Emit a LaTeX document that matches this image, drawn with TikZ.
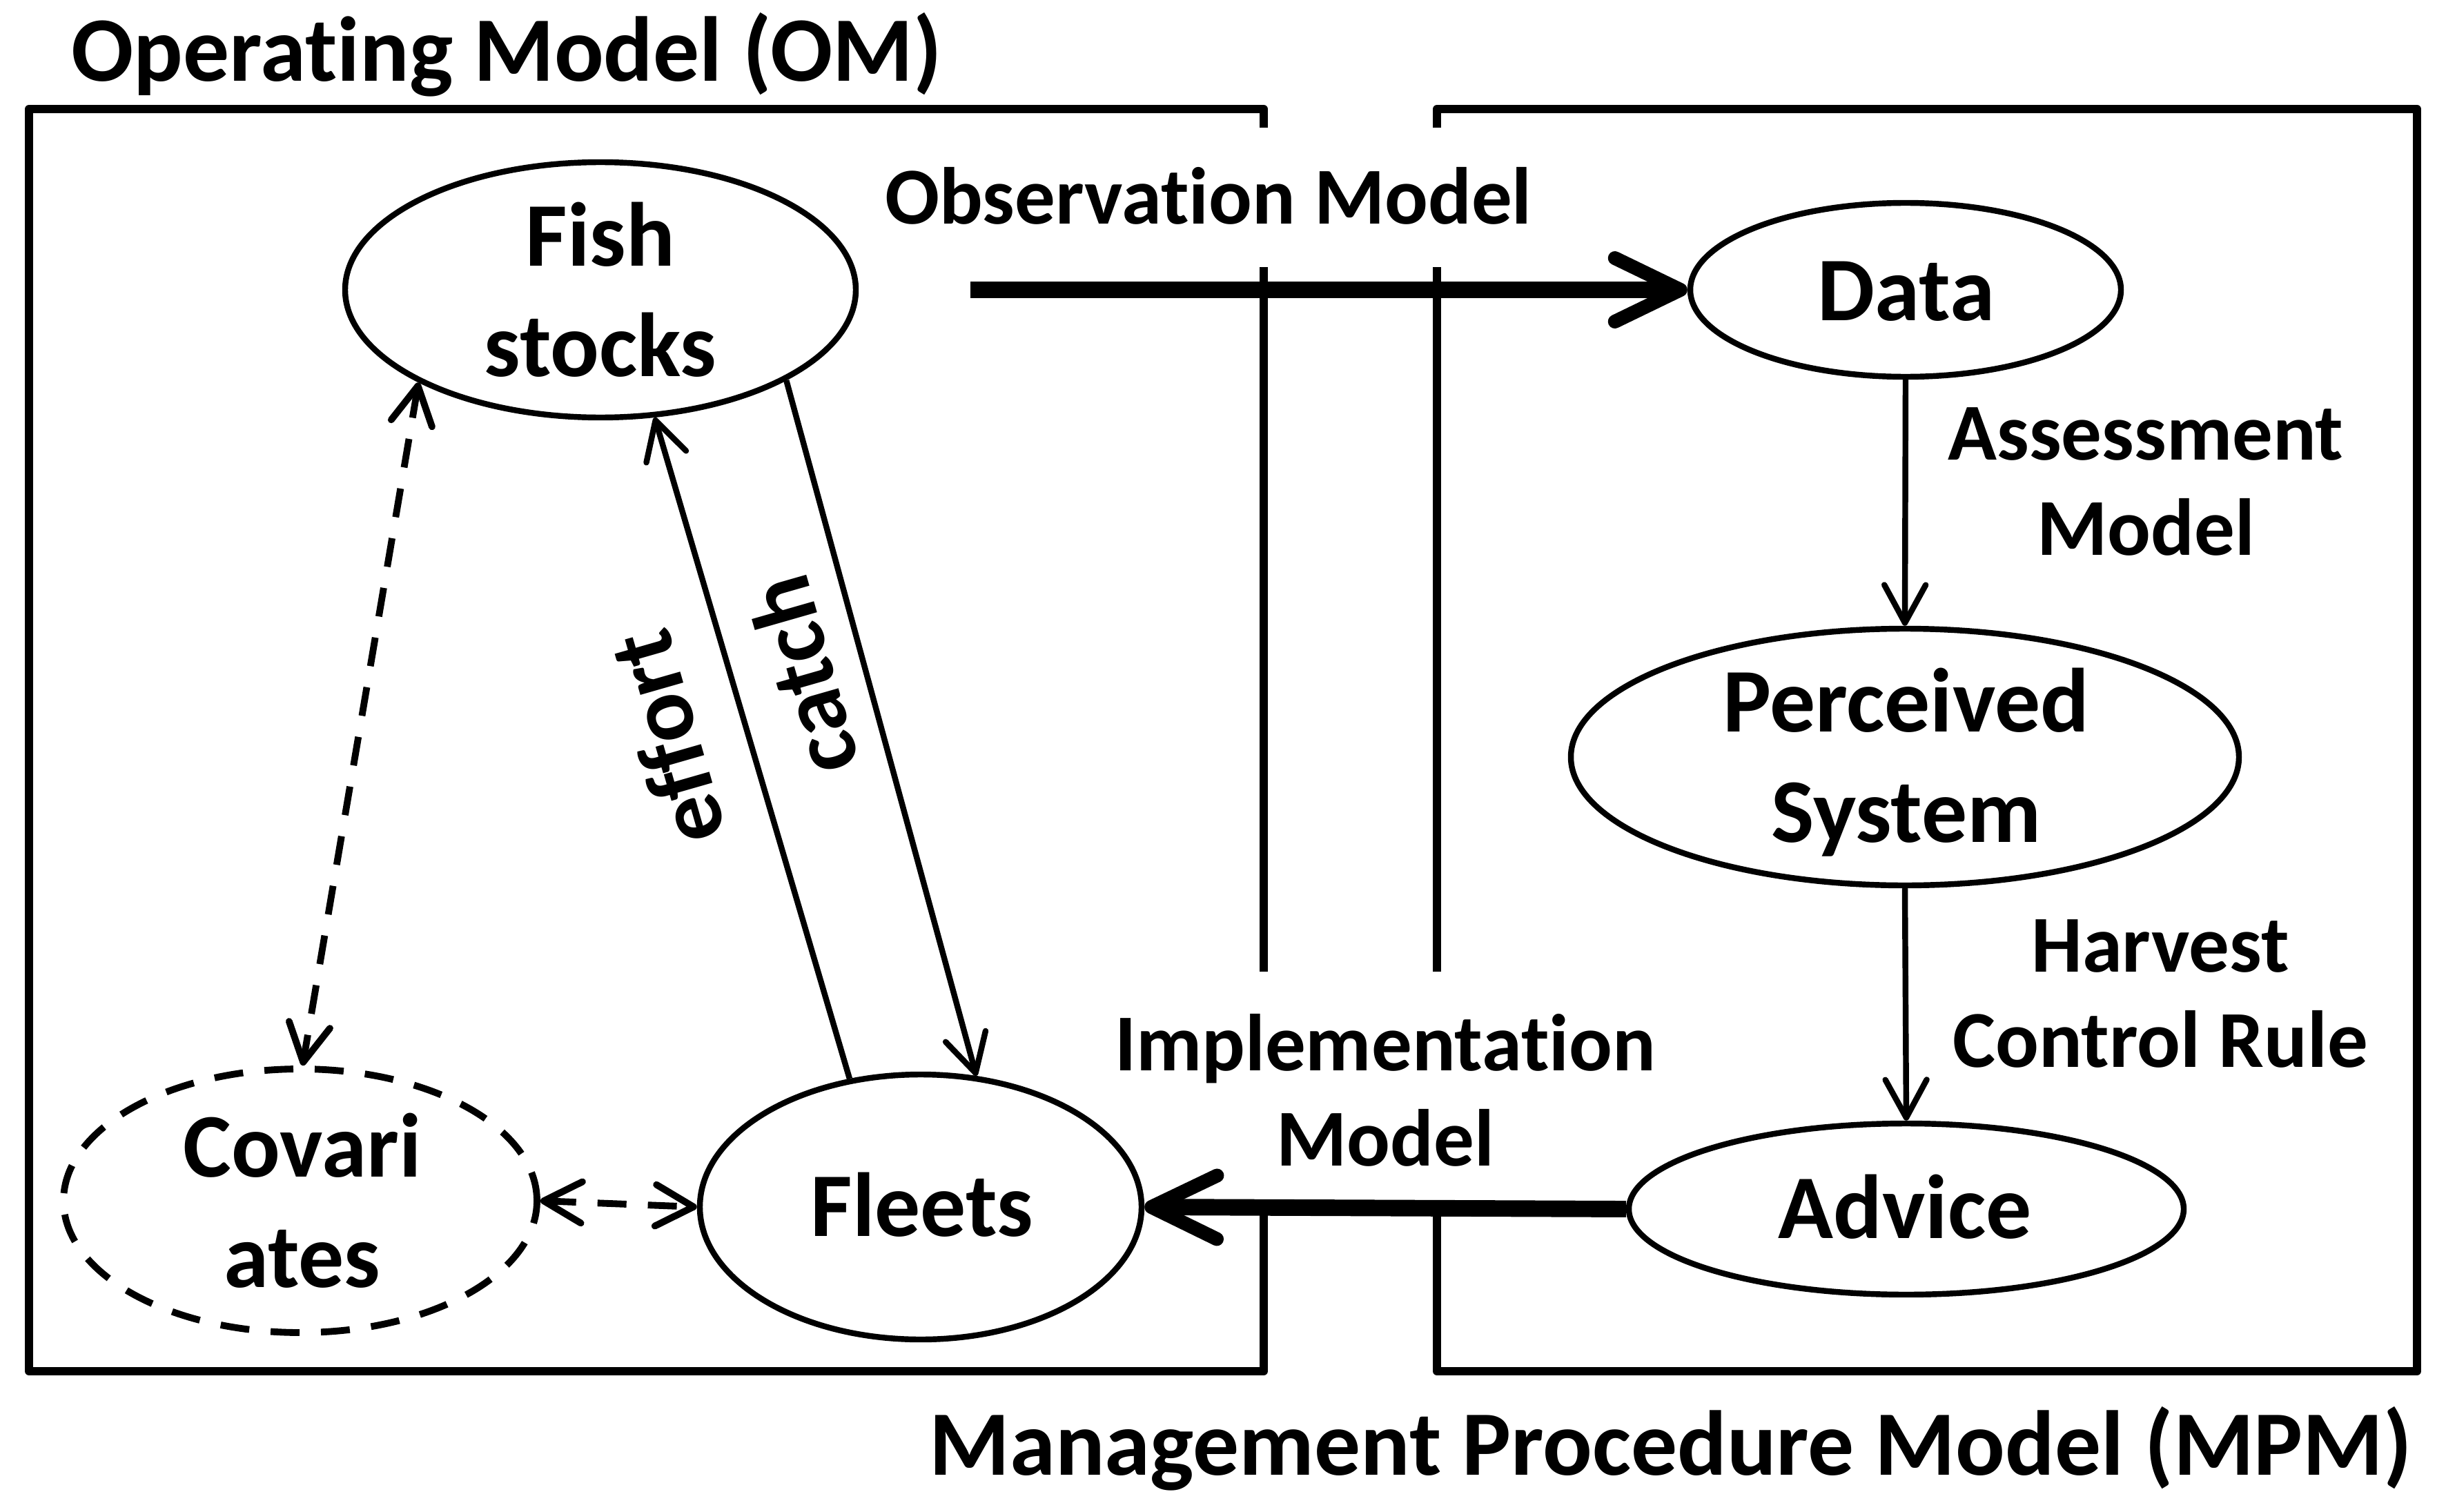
\documentclass[tikz,border=0pt]{standalone}
\usepackage{fontspec}
\setmainfont{Carlito}[Ligatures=NoCommon]
\usetikzlibrary{shapes.geometric,arrows.meta}
\tikzset{
  boxline/.style={line width=3.4pt, line join=round},
  oval/.style={draw, ellipse, line width=2.4pt, inner sep=0pt},
  dashoval/.style={oval, line width=2.8pt, dash pattern=on 0.42cm off 0.31cm},
  thinarr/.style={line width=2.4pt, -{Straight Barb[length=0.55cm,width=0.6cm,round]}},
  thickarr/.style={line width=6.8pt, -{Straight Barb[length=0.95cm,width=0.92cm,line width=5.7pt,round]}},
  dasharr/.style={line width=2.8pt, dash pattern=on 0.42cm off 0.31cm,
    {Straight Barb[length=0.55cm,width=0.6cm,round]}-{Straight Barb[length=0.55cm,width=0.6cm,round]}},
  nodetext/.style={font=\fontsize{37.5}{45.5}\selectfont\bfseries, align=center, inner sep=0pt, anchor=base},
  lbl/.style={font=\fontsize{33.3}{39}\selectfont\bfseries, align=center, inner sep=0pt, anchor=base},
  rotlbl/.style={font=\fontsize{38}{45}\selectfont\bfseries, inner sep=0pt, anchor=center, rotate=106},
  heading/.style={font=\fontsize{38}{45}\selectfont\bfseries, inner sep=0pt}
}
\begin{document}
\begin{tikzpicture}
\useasboundingbox (0,0) rectangle (35.44,-21.91);
% boxes
\draw[boxline] (18.31,-1.85) -- (18.31,-1.58) -- (0.42,-1.58) -- (0.42,-19.87) -- (18.31,-19.87) -- (18.31,-17.49);
\draw[boxline] (18.31,-3.87) -- (18.31,-14.08);
\draw[boxline] (20.82,-1.85) -- (20.82,-1.58) -- (35.02,-1.58) -- (35.02,-19.87) -- (20.82,-19.87) -- (20.82,-17.49);
\draw[boxline] (20.82,-3.87) -- (20.82,-14.08);
% headings
\node[heading, anchor=base west] (omtitle) at (1.03,-1.18) {Operating Model (OM)};
\node[heading, anchor=base east] (mpmtitle) at (34.96,-21.37) {Management Procedure Model (MPM)};
% ellipses
\node[oval, minimum width=7.40cm, minimum height=3.70cm] (fish) at (8.70,-4.20) {};
\node[oval, minimum width=6.24cm, minimum height=2.52cm] (data) at (27.61,-4.20) {};
\node[oval, minimum width=9.68cm, minimum height=3.72cm] (perc) at (27.60,-10.97) {};
\node[oval, minimum width=8.04cm, minimum height=2.48cm] (advice) at (27.62,-17.52) {};
\node[oval, minimum width=6.40cm, minimum height=3.84cm] (fleets) at (13.34,-17.49) {};
\node[dashoval, minimum width=6.86cm, minimum height=3.82cm] (cov) at (4.35,-17.40) {};
% node texts (base = baseline of last line)
\node[nodetext] (fishT) at (8.70,-5.45) {Fish\\stocks};
\node[nodetext] (dataT) at (27.62,-4.64) {Data};
\node[nodetext] (percT) at (27.62,-12.20) {Perceived\\System};
\node[nodetext] (adviceT) at (27.60,-17.94) {Advice};
\node[nodetext] (fleetsT) at (13.36,-17.91) {Fleets};
\node[nodetext] (covT) at (4.38,-18.65) {Covari\\ates};
% labels
\node[lbl] (obsT) at (17.51,-3.25) {Observation Model};
\node[lbl] (assT) at (31.09,-8.04) {Assessment\\Model};
\node[lbl] (hcrT) at (31.30,-15.46) {Harvest\\Control Rule};
\node[lbl] (impT) at (20.07,-16.89) {Implementation\\Model};
\node[rotlbl] (effT) at (9.66,-10.70) {effort};
\node[rotlbl] (catT) at (11.62,-9.80) {catch};
% connectors
\coordinate (obsStart) at (14.06,-4.20);
\draw[thickarr] (obsStart) -- (data.west);
\draw[thickarr] (advice.west) -- (fleets.east);
\draw[thinarr] (data.south) -- (perc.north);
\draw[thinarr] (perc.south) -- (advice.north);
\draw[thinarr] (fleets.119) -- (fish.-67.6);
\draw[thinarr] (fish.-26.9) -- (fleets.67.8);
\draw[dasharr] (fish.207.3) -- (cov.89);
\draw[dasharr] (cov.east) -- (fleets.west);
\end{tikzpicture}
\end{document}
